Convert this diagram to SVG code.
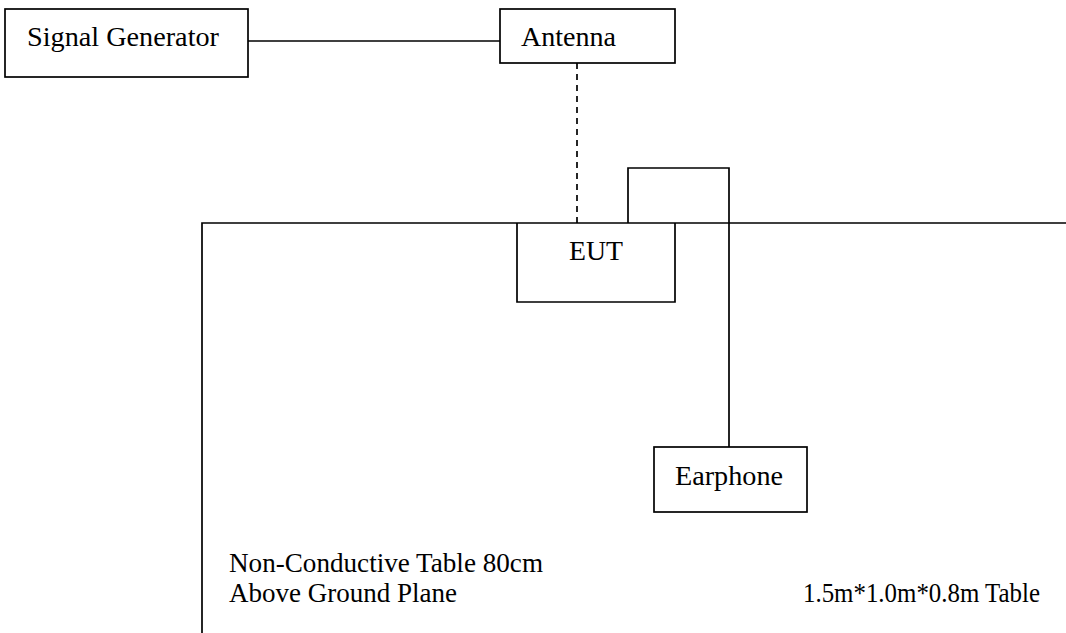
<svg xmlns="http://www.w3.org/2000/svg" width="1066" height="633" viewBox="0 0 1066 633">
<style>
.box{fill:#fff;stroke:#000;stroke-width:1.7}
.ln{fill:none;stroke:#000;stroke-width:1.7}
.dash{fill:none;stroke:#000;stroke-width:1.7;stroke-dasharray:6,5}
text{font-family:"Liberation Serif","Times New Roman",serif;font-size:28px;fill:#000}
</style>
<rect width="1066" height="633" fill="#fff"/>
<g id="table">
<path class="ln" d="M202,633 V223 H1066"/>
<text x="229" y="572" textLength="314" lengthAdjust="spacingAndGlyphs">Non-Conductive Table 80cm</text>
<text x="229" y="602" textLength="228" lengthAdjust="spacingAndGlyphs">Above Ground Plane</text>
<text x="803" y="602" textLength="237" lengthAdjust="spacingAndGlyphs">1.5m*1.0m*0.8m Table</text>
</g>
<g id="connectors">
<line class="ln" x1="248" y1="41" x2="500" y2="41"/>
<line class="dash" x1="577" y1="63" x2="577" y2="223"/>
<path class="ln" d="M628,223 V168 H729 V447"/>
</g>
<g id="signal-generator">
<rect class="box" x="5" y="9" width="243" height="68"/>
<text x="27" y="46" textLength="192" lengthAdjust="spacingAndGlyphs">Signal Generator</text>
</g>
<g id="antenna">
<rect class="box" x="500" y="9" width="175" height="54"/>
<text x="521" y="46" textLength="95" lengthAdjust="spacingAndGlyphs">Antenna</text>
</g>
<g id="eut">
<path class="ln" d="M517,223 V302 H675 V223"/>
<text x="569" y="260" textLength="54" lengthAdjust="spacingAndGlyphs">EUT</text>
</g>
<g id="earphone">
<rect class="box" x="654" y="447" width="153" height="65"/>
<text x="675" y="485" textLength="108" lengthAdjust="spacingAndGlyphs">Earphone</text>
</g>
</svg>
